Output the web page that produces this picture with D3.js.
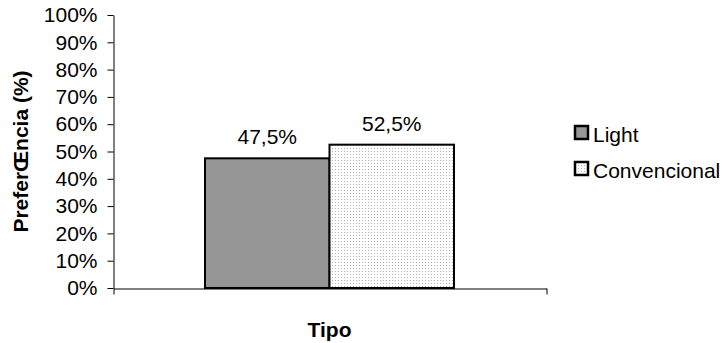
<!DOCTYPE html>
<html>
<head>
<meta charset="utf-8">
<script src="https://cdn.jsdelivr.net/npm/d3@7/dist/d3.min.js"></script>
<style>
  html, body { margin: 0; padding: 0; background: #fff; }
  svg { display: block; }
  text { font-family: "Liberation Sans", Arial, sans-serif; fill: #000; }
</style>
</head>
<body>
<svg id="chart" width="725" height="343"></svg>
<script>
// Data
const categories = [""];
const seriesNames = ["Light", "Convencional"];
const seriesValues = [0.475, 0.525];
const yTickValues = [0, 0.1, 0.2, 0.3, 0.4, 0.5, 0.6, 0.7, 0.8, 0.9, 1.0];
const yTitle = "PreferŒncia (%)";
const xTitle = "Tipo";

const svg = d3.select("#chart");
const plot = { left: 113, right: 546, top: 15, bottom: 288 };
const fontSize = 21;

// Patterns
const defs = svg.append("defs");
const pat = defs.append("pattern")
  .attr("id", "dots")
  .attr("patternUnits", "userSpaceOnUse")
  .attr("width", 3).attr("height", 3);
pat.append("rect").attr("width", 3).attr("height", 3).attr("fill", "#fff");
pat.append("rect").attr("x", 1).attr("y", 1).attr("width", 1).attr("height", 1).attr("fill", "#b4b4b4");

const fills = ["#969696", "url(#dots)"];

// Scales
const y = d3.scaleLinear().domain([0, 1]).range([plot.bottom, plot.top]);
const xCat = d3.scaleBand().domain(categories).range([plot.left, plot.right])
  .paddingInner(0).paddingOuter(0.3695);
const xSeries = d3.scaleBand().domain(seriesNames).range([0, xCat.bandwidth()]).padding(0);

const pctFmt = d3.format(".0%");
const ptLocale = d3.formatLocale({ decimal: ",", thousands: ".", grouping: [3], currency: ["", "€"] });
const labelFmt = ptLocale.format(".1%");

// Y axis
const yAxis = svg.append("g")
  .attr("transform", `translate(${plot.left + 0.5},0)`)
  .call(d3.axisLeft(y).tickValues(yTickValues).tickFormat(pctFmt)
    .tickSize(6).tickSizeOuter(0).tickPadding(10));
yAxis.select(".domain").attr("stroke", "#000");
yAxis.selectAll(".tick line").attr("stroke", "#000");
yAxis.selectAll(".tick text")
  .attr("font-size", fontSize)
  .attr("font-family", "Liberation Sans, Arial, sans-serif")
  .attr("fill", "#000");

// Bars
const groups = svg.append("g").selectAll("g")
  .data(categories)
  .join("g")
  .attr("transform", d => `translate(${xCat(d)},0)`);

const barData = seriesNames.map((s, i) => ({ name: s, value: seriesValues[i], fill: fills[i] }));

groups.selectAll("rect")
  .data(barData)
  .join("rect")
  .attr("x", d => xSeries(d.name))
  .attr("y", d => y(d.value))
  .attr("width", xSeries.bandwidth())
  .attr("height", d => y(0) - y(d.value))
  .attr("fill", d => d.fill)
  .attr("stroke", "#000")
  .attr("stroke-width", 2);

groups.selectAll("text.val")
  .data(barData)
  .join("text")
  .attr("class", "val")
  .attr("x", d => xSeries(d.name) + xSeries.bandwidth() / 2)
  .attr("y", d => y(d.value) - 14)
  .attr("text-anchor", "middle")
  .attr("font-size", fontSize)
  .text(d => labelFmt(d.value));

// X axis (baseline with end ticks)
const xEdge = d3.scaleLinear().domain([0, 1]).range([plot.left, plot.right]);
const xAxis = svg.append("g")
  .attr("transform", `translate(0.5,${plot.bottom + 0.5})`)
  .call(d3.axisBottom(xEdge).tickValues([0, 1]).tickFormat(() => "")
    .tickSize(6).tickSizeOuter(0));
xAxis.select(".domain").attr("stroke", "#000");
xAxis.selectAll(".tick line").attr("stroke", "#000");

// Axis titles
svg.append("text")
  .attr("transform", `translate(28,${(plot.top + plot.bottom) / 2}) rotate(-90)`)
  .attr("text-anchor", "middle")
  .attr("font-size", fontSize)
  .attr("font-weight", "bold")
  .text(yTitle);

svg.append("text")
  .attr("x", (plot.left + plot.right) / 2)
  .attr("y", 337)
  .attr("text-anchor", "middle")
  .attr("font-size", fontSize)
  .attr("font-weight", "bold")
  .text(xTitle);

// Legend
const legend = svg.append("g").attr("transform", "translate(574,125)");
const item = legend.selectAll("g")
  .data(barData)
  .join("g")
  .attr("transform", (d, i) => `translate(0,${i * 36})`);
item.append("rect")
  .attr("x", 1).attr("y", 1)
  .attr("width", 13).attr("height", 13)
  .attr("fill", d => d.fill)
  .attr("stroke", "#000")
  .attr("stroke-width", 2.5);
item.append("text")
  .attr("x", 19)
  .attr("y", 16.5)
  .attr("font-size", fontSize)
  .text(d => d.name);
</script>
</body>
</html>
